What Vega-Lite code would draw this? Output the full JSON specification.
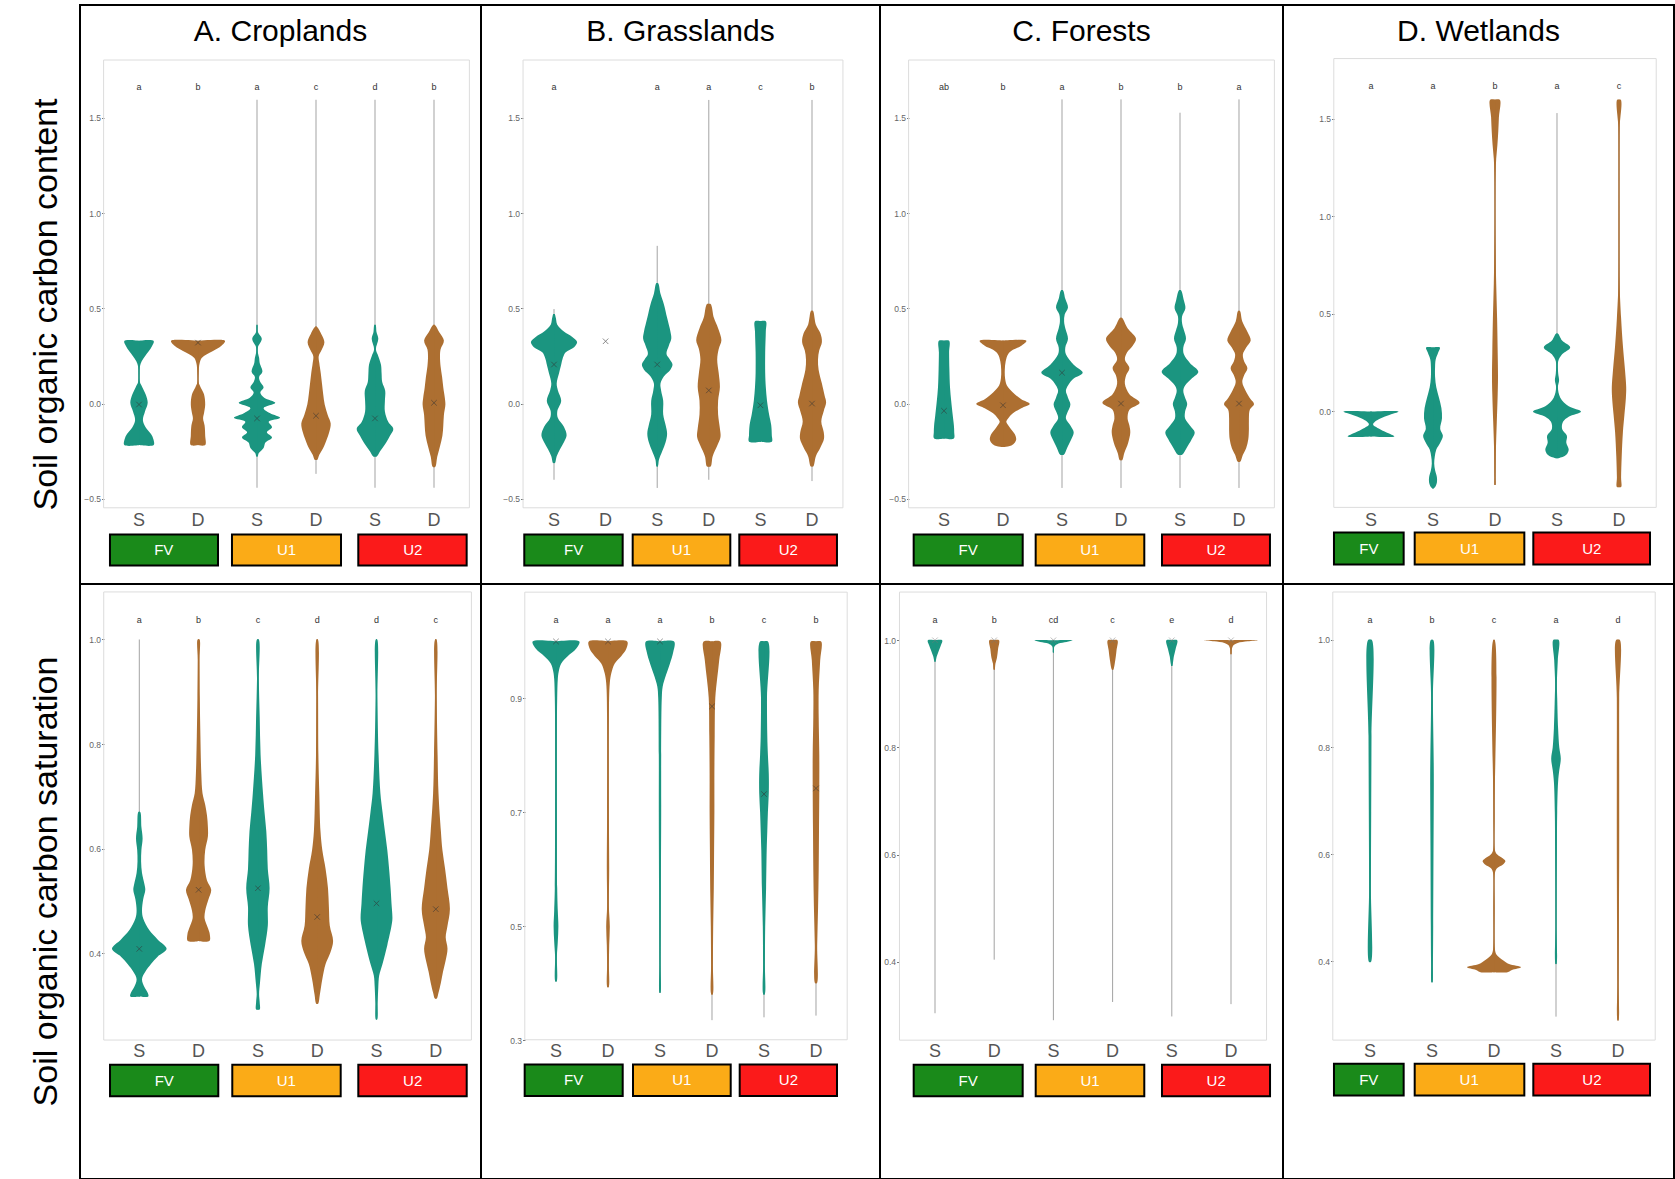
{
"$schema":"https://vega.github.io/schema/vega-lite/v6.json",
"background":"white",
"padding":{"left":13,"top":4,"right":0,"bottom":0},
"config":{"font":"Liberation Sans","view":{"stroke":"black","strokeWidth":2},"axis":{"labelFontSize":8.5,"labelColor":"#666","tickColor":"#777","tickSize":2.5,"domain":false,"grid":false,"labelPadding":1}},
"resolve":{"scale":{"xOffset":"independent"}},
"columns":5,"spacing":0,"bounds":"flush",
"datasets":{
"LA1":[{"k":1,"t":"S","let":"a","m":-0.005,"lo":-0.218,"hi":0.329},{"k":2,"t":"D","let":"b","m":0.32,"lo":-0.218,"hi":0.329},{"k":3,"t":"S","let":"a","m":-0.078,"lo":-0.442,"hi":1.595},{"k":4,"t":"D","let":"c","m":-0.064,"lo":-0.369,"hi":1.595},{"k":5,"t":"S","let":"d","m":-0.078,"lo":-0.442,"hi":1.595},{"k":6,"t":"D","let":"b","m":0.004,"lo":-0.442,"hi":1.595}],
"LB1":[{"k":1,"t":"S","let":"a","m":0.205,"lo":-0.4,"hi":0.496},{"k":2,"t":"D","let":"","m":0.327,"lo":null,"hi":null},{"k":3,"t":"S","let":"a","m":0.205,"lo":-0.443,"hi":0.828},{"k":4,"t":"D","let":"a","m":0.069,"lo":-0.4,"hi":1.594},{"k":5,"t":"S","let":"c","m":-0.009,"lo":-0.2,"hi":0.432},{"k":6,"t":"D","let":"b","m":0.0,"lo":-0.407,"hi":1.594}],
"LC1":[{"k":1,"t":"S","let":"ab","m":-0.038,"lo":-0.184,"hi":0.33},{"k":2,"t":"D","let":"b","m":-0.009,"lo":-0.228,"hi":0.33},{"k":3,"t":"S","let":"a","m":0.162,"lo":-0.443,"hi":1.597},{"k":4,"t":"D","let":"b","m":0.0,"lo":-0.443,"hi":1.597},{"k":5,"t":"S","let":"b","m":null,"lo":-0.443,"hi":1.527},{"k":6,"t":"D","let":"a","m":0.0,"lo":-0.443,"hi":1.597}],
"LD1":[{"k":1,"t":"S","let":"a","m":null,"lo":-0.128,"hi":0.0},{"k":2,"t":"S","let":"a","m":null,"lo":-0.394,"hi":0.328},{"k":3,"t":"D","let":"b","m":null,"lo":-0.376,"hi":1.596},{"k":4,"t":"S","let":"a","m":null,"lo":-0.239,"hi":1.528},{"k":5,"t":"D","let":"c","m":null,"lo":-0.387,"hi":1.596}],
"LA2":[{"k":1,"t":"S","let":"a","m":0.408,"lo":0.317,"hi":1.0},{"k":2,"t":"D","let":"b","m":0.521,"lo":0.423,"hi":1.0},{"k":3,"t":"S","let":"c","m":0.524,"lo":0.292,"hi":1.0},{"k":4,"t":"D","let":"d","m":0.469,"lo":0.303,"hi":1.0},{"k":5,"t":"S","let":"d","m":0.495,"lo":0.273,"hi":1.0},{"k":6,"t":"D","let":"c","m":0.484,"lo":0.313,"hi":1.0}],
"LB2":[{"k":1,"t":"S","let":"a","m":1.0,"lo":0.403,"hi":1.0},{"k":2,"t":"D","let":"a","m":1.0,"lo":0.393,"hi":1.0},{"k":3,"t":"S","let":"a","m":1.0,"lo":0.383,"hi":1.0},{"k":4,"t":"D","let":"b","m":0.886,"lo":0.335,"hi":1.0},{"k":5,"t":"S","let":"c","m":0.732,"lo":0.34,"hi":1.0},{"k":6,"t":"D","let":"b","m":0.742,"lo":0.343,"hi":1.0}],
"LC2":[{"k":1,"t":"S","let":"a","m":1.0,"lo":0.304,"hi":1.0},{"k":2,"t":"D","let":"b","m":1.0,"lo":0.404,"hi":1.0},{"k":3,"t":"S","let":"cd","m":1.0,"lo":0.291,"hi":1.0},{"k":4,"t":"D","let":"c","m":1.0,"lo":0.325,"hi":1.0},{"k":5,"t":"S","let":"e","m":1.0,"lo":0.298,"hi":1.0},{"k":6,"t":"D","let":"d","m":1.0,"lo":0.321,"hi":1.0}],
"LD2":[{"k":1,"t":"S","let":"a","m":null,"lo":0.399,"hi":1.0},{"k":2,"t":"S","let":"b","m":null,"lo":0.361,"hi":1.0},{"k":3,"t":"D","let":"c","m":null,"lo":0.38,"hi":1.0},{"k":4,"t":"S","let":"a","m":null,"lo":0.297,"hi":1.0},{"k":5,"t":"D","let":"d","m":null,"lo":0.29,"hi":1.0}],
"BA1":[{"g":"FV","x0":0.508,"x1":2.339,"xc":1.42},{"g":"U1","x0":2.576,"x1":4.424,"xc":3.5},{"g":"U2","x0":4.717,"x1":6.554,"xc":5.64}],
"BB1":[{"g":"FV","x0":0.424,"x1":2.331,"xc":1.38},{"g":"U1","x0":2.525,"x1":4.417,"xc":3.47},{"g":"U2","x0":4.591,"x1":6.484,"xc":5.54}],
"BC1":[{"g":"FV","x0":0.486,"x1":2.334,"xc":1.41},{"g":"U1","x0":2.554,"x1":4.395,"xc":3.47},{"g":"U2","x0":4.695,"x1":6.525,"xc":5.61}],
"BD1":[{"g":"FV","x0":0.403,"x1":1.527,"xc":0.965},{"g":"U1","x0":1.705,"x1":3.473,"xc":2.59},{"g":"U2","x0":3.618,"x1":5.5,"xc":4.56}],
"BA2":[{"g":"FV","x0":0.506,"x1":2.332,"xc":1.42},{"g":"U1","x0":2.568,"x1":4.396,"xc":3.48},{"g":"U2","x0":4.693,"x1":6.521,"xc":5.61}],
"BB2":[{"g":"FV","x0":0.398,"x1":2.283,"xc":1.34},{"g":"U1","x0":2.481,"x1":4.36,"xc":3.42},{"g":"U2","x0":4.533,"x1":6.404,"xc":5.47}],
"BC2":[{"g":"FV","x0":0.64,"x1":2.481,"xc":1.56},{"g":"U1","x0":2.701,"x1":4.535,"xc":3.62},{"g":"U2","x0":4.834,"x1":6.659,"xc":5.75}],
"BD2":[{"g":"FV","x0":0.419,"x1":1.543,"xc":0.98},{"g":"U1","x0":1.721,"x1":3.489,"xc":2.6},{"g":"U2","x0":3.634,"x1":5.516,"xc":4.58}],
"vA1":[
{"k":1,"y":-0.218,"r":-0.02,"l":0.02},{"k":1,"y":-0.218,"r":0.49,"l":-0.49},{"k":1,"y":-0.187,"r":0.48,"l":-0.48},{"k":1,"y":-0.16,"r":0.4,"l":-0.4},{"k":1,"y":-0.124,"r":0.22,"l":-0.22},{"k":1,"y":-0.087,"r":0.13,"l":-0.13},{"k":1,"y":-0.042,"r":0.2,"l":-0.2},{"k":1,"y":0.004,"r":0.29,"l":-0.29},{"k":1,"y":0.049,"r":0.22,"l":-0.22},{"k":1,"y":0.086,"r":0.11,"l":-0.11},{"k":1,"y":0.113,"r":0.03,"l":-0.03},{"k":1,"y":0.158,"r":0.017,"l":-0.017},{"k":1,"y":0.195,"r":0.03,"l":-0.03},{"k":1,"y":0.222,"r":0.09,"l":-0.09},{"k":1,"y":0.249,"r":0.2,"l":-0.2},{"k":1,"y":0.276,"r":0.33,"l":-0.33},{"k":1,"y":0.304,"r":0.44,"l":-0.44},{"k":1,"y":0.329,"r":0.49,"l":-0.49},{"k":1,"y":0.329,"r":-0.02,"l":0.02},
{"k":2,"y":-0.218,"r":-0.02,"l":0.02},{"k":2,"y":-0.218,"r":0.24,"l":-0.24},{"k":2,"y":-0.169,"r":0.24,"l":-0.24},{"k":2,"y":-0.115,"r":0.22,"l":-0.22},{"k":2,"y":-0.078,"r":0.17,"l":-0.17},{"k":2,"y":-0.051,"r":0.2,"l":-0.2},{"k":2,"y":-0.005,"r":0.24,"l":-0.24},{"k":2,"y":0.049,"r":0.2,"l":-0.2},{"k":2,"y":0.085,"r":0.09,"l":-0.09},{"k":2,"y":0.113,"r":0.02,"l":-0.02},{"k":2,"y":0.158,"r":0.02,"l":-0.02},{"k":2,"y":0.213,"r":0.056,"l":-0.056},{"k":2,"y":0.24,"r":0.13,"l":-0.13},{"k":2,"y":0.258,"r":0.28,"l":-0.28},{"k":2,"y":0.276,"r":0.5,"l":-0.5},{"k":2,"y":0.304,"r":0.78,"l":-0.78},{"k":2,"y":0.329,"r":0.9,"l":-0.9},{"k":2,"y":0.329,"r":-0.02,"l":0.02},
{"k":3,"y":-0.278,"r":-0.02,"l":0.02},{"k":3,"y":-0.278,"r":0.02,"l":-0.02},{"k":3,"y":-0.26,"r":0.06,"l":-0.06},{"k":3,"y":-0.233,"r":0.22,"l":-0.22},{"k":3,"y":-0.205,"r":0.28,"l":-0.28},{"k":3,"y":-0.178,"r":0.5,"l":-0.5},{"k":3,"y":-0.151,"r":0.33,"l":-0.33},{"k":3,"y":-0.124,"r":0.5,"l":-0.5},{"k":3,"y":-0.096,"r":0.39,"l":-0.39},{"k":3,"y":-0.075,"r":0.77,"l":-0.77},{"k":3,"y":-0.051,"r":0.44,"l":-0.44},{"k":3,"y":-0.024,"r":0.22,"l":-0.22},{"k":3,"y":0.004,"r":0.61,"l":-0.61},{"k":3,"y":0.031,"r":0.24,"l":-0.24},{"k":3,"y":0.058,"r":0.11,"l":-0.11},{"k":3,"y":0.085,"r":0.22,"l":-0.22},{"k":3,"y":0.113,"r":0.11,"l":-0.11},{"k":3,"y":0.14,"r":0.07,"l":-0.07},{"k":3,"y":0.167,"r":0.18,"l":-0.18},{"k":3,"y":0.213,"r":0.09,"l":-0.09},{"k":3,"y":0.24,"r":0.07,"l":-0.07},{"k":3,"y":0.267,"r":0.03,"l":-0.03},{"k":3,"y":0.295,"r":0.03,"l":-0.03},{"k":3,"y":0.34,"r":0.16,"l":-0.16},{"k":3,"y":0.376,"r":0.03,"l":-0.03},{"k":3,"y":0.413,"r":0.01,"l":-0.01},{"k":3,"y":0.413,"r":-0.02,"l":0.02},
{"k":4,"y":-0.296,"r":-0.02,"l":0.02},{"k":4,"y":-0.296,"r":0.04,"l":-0.04},{"k":4,"y":-0.269,"r":0.11,"l":-0.11},{"k":4,"y":-0.233,"r":0.24,"l":-0.24},{"k":4,"y":-0.187,"r":0.36,"l":-0.36},{"k":4,"y":-0.151,"r":0.44,"l":-0.44},{"k":4,"y":-0.105,"r":0.49,"l":-0.49},{"k":4,"y":-0.06,"r":0.39,"l":-0.39},{"k":4,"y":-0.005,"r":0.29,"l":-0.29},{"k":4,"y":0.049,"r":0.24,"l":-0.24},{"k":4,"y":0.104,"r":0.2,"l":-0.2},{"k":4,"y":0.158,"r":0.16,"l":-0.16},{"k":4,"y":0.213,"r":0.11,"l":-0.11},{"k":4,"y":0.249,"r":0.09,"l":-0.09},{"k":4,"y":0.276,"r":0.17,"l":-0.17},{"k":4,"y":0.322,"r":0.28,"l":-0.28},{"k":4,"y":0.367,"r":0.17,"l":-0.17},{"k":4,"y":0.404,"r":0.02,"l":-0.02},{"k":4,"y":0.404,"r":-0.02,"l":0.02},
{"k":5,"y":-0.278,"r":-0.02,"l":0.02},{"k":5,"y":-0.278,"r":0.06,"l":-0.06},{"k":5,"y":-0.251,"r":0.17,"l":-0.17},{"k":5,"y":-0.215,"r":0.33,"l":-0.33},{"k":5,"y":-0.169,"r":0.5,"l":-0.5},{"k":5,"y":-0.133,"r":0.61,"l":-0.61},{"k":5,"y":-0.096,"r":0.44,"l":-0.44},{"k":5,"y":-0.042,"r":0.33,"l":-0.33},{"k":5,"y":0.013,"r":0.33,"l":-0.33},{"k":5,"y":0.067,"r":0.34,"l":-0.34},{"k":5,"y":0.113,"r":0.24,"l":-0.24},{"k":5,"y":0.158,"r":0.22,"l":-0.22},{"k":5,"y":0.204,"r":0.2,"l":-0.2},{"k":5,"y":0.249,"r":0.11,"l":-0.11},{"k":5,"y":0.285,"r":0.03,"l":-0.03},{"k":5,"y":0.34,"r":0.11,"l":-0.11},{"k":5,"y":0.376,"r":0.05,"l":-0.05},{"k":5,"y":0.413,"r":0.02,"l":-0.02},{"k":5,"y":0.413,"r":-0.02,"l":0.02},
{"k":6,"y":-0.333,"r":-0.02,"l":0.02},{"k":6,"y":-0.333,"r":0.04,"l":-0.04},{"k":6,"y":-0.278,"r":0.11,"l":-0.11},{"k":6,"y":-0.224,"r":0.2,"l":-0.2},{"k":6,"y":-0.169,"r":0.28,"l":-0.28},{"k":6,"y":-0.115,"r":0.31,"l":-0.31},{"k":6,"y":-0.06,"r":0.33,"l":-0.33},{"k":6,"y":-0.005,"r":0.38,"l":-0.38},{"k":6,"y":0.031,"r":0.36,"l":-0.36},{"k":6,"y":0.085,"r":0.31,"l":-0.31},{"k":6,"y":0.14,"r":0.27,"l":-0.27},{"k":6,"y":0.195,"r":0.22,"l":-0.22},{"k":6,"y":0.249,"r":0.2,"l":-0.2},{"k":6,"y":0.285,"r":0.22,"l":-0.22},{"k":6,"y":0.331,"r":0.33,"l":-0.33},{"k":6,"y":0.376,"r":0.17,"l":-0.17},{"k":6,"y":0.413,"r":0.03,"l":-0.03},{"k":6,"y":0.413,"r":-0.02,"l":0.02}],
"vB1":[
{"k":1,"y":-0.312,"r":-0.02,"l":0.02},{"k":1,"y":-0.312,"r":0.03,"l":-0.03},{"k":1,"y":-0.276,"r":0.09,"l":-0.09},{"k":1,"y":-0.24,"r":0.2,"l":-0.2},{"k":1,"y":-0.203,"r":0.33,"l":-0.33},{"k":1,"y":-0.167,"r":0.42,"l":-0.42},{"k":1,"y":-0.122,"r":0.33,"l":-0.33},{"k":1,"y":-0.076,"r":0.13,"l":-0.13},{"k":1,"y":-0.04,"r":0.11,"l":-0.11},{"k":1,"y":0.015,"r":0.24,"l":-0.24},{"k":1,"y":0.069,"r":0.13,"l":-0.13},{"k":1,"y":0.105,"r":0.09,"l":-0.09},{"k":1,"y":0.16,"r":0.17,"l":-0.17},{"k":1,"y":0.205,"r":0.24,"l":-0.24},{"k":1,"y":0.232,"r":0.28,"l":-0.28},{"k":1,"y":0.269,"r":0.39,"l":-0.39},{"k":1,"y":0.296,"r":0.67,"l":-0.67},{"k":1,"y":0.323,"r":0.77,"l":-0.77},{"k":1,"y":0.35,"r":0.61,"l":-0.61},{"k":1,"y":0.378,"r":0.33,"l":-0.33},{"k":1,"y":0.414,"r":0.11,"l":-0.11},{"k":1,"y":0.45,"r":0.06,"l":-0.06},{"k":1,"y":0.47,"r":0.02,"l":-0.02},{"k":1,"y":0.47,"r":-0.02,"l":0.02},
{"k":3,"y":-0.33,"r":-0.02,"l":0.02},{"k":3,"y":-0.33,"r":0.02,"l":-0.02},{"k":3,"y":-0.294,"r":0.06,"l":-0.06},{"k":3,"y":-0.249,"r":0.17,"l":-0.17},{"k":3,"y":-0.203,"r":0.28,"l":-0.28},{"k":3,"y":-0.158,"r":0.33,"l":-0.33},{"k":3,"y":-0.113,"r":0.28,"l":-0.28},{"k":3,"y":-0.058,"r":0.2,"l":-0.2},{"k":3,"y":0.015,"r":0.2,"l":-0.2},{"k":3,"y":0.069,"r":0.13,"l":-0.13},{"k":3,"y":0.105,"r":0.11,"l":-0.11},{"k":3,"y":0.142,"r":0.22,"l":-0.22},{"k":3,"y":0.178,"r":0.44,"l":-0.44},{"k":3,"y":0.205,"r":0.51,"l":-0.51},{"k":3,"y":0.232,"r":0.42,"l":-0.42},{"k":3,"y":0.26,"r":0.31,"l":-0.31},{"k":3,"y":0.305,"r":0.39,"l":-0.39},{"k":3,"y":0.341,"r":0.47,"l":-0.47},{"k":3,"y":0.378,"r":0.44,"l":-0.44},{"k":3,"y":0.45,"r":0.33,"l":-0.33},{"k":3,"y":0.523,"r":0.22,"l":-0.22},{"k":3,"y":0.577,"r":0.11,"l":-0.11},{"k":3,"y":0.632,"r":0.03,"l":-0.03},{"k":3,"y":0.632,"r":-0.02,"l":0.02},
{"k":4,"y":-0.33,"r":-0.02,"l":0.02},{"k":4,"y":-0.33,"r":0.06,"l":-0.06},{"k":4,"y":-0.276,"r":0.13,"l":-0.13},{"k":4,"y":-0.222,"r":0.28,"l":-0.28},{"k":4,"y":-0.176,"r":0.39,"l":-0.39},{"k":4,"y":-0.131,"r":0.37,"l":-0.37},{"k":4,"y":-0.058,"r":0.31,"l":-0.31},{"k":4,"y":0.015,"r":0.31,"l":-0.31},{"k":4,"y":0.087,"r":0.37,"l":-0.37},{"k":4,"y":0.16,"r":0.33,"l":-0.33},{"k":4,"y":0.232,"r":0.28,"l":-0.28},{"k":4,"y":0.287,"r":0.33,"l":-0.33},{"k":4,"y":0.332,"r":0.42,"l":-0.42},{"k":4,"y":0.396,"r":0.31,"l":-0.31},{"k":4,"y":0.45,"r":0.17,"l":-0.17},{"k":4,"y":0.523,"r":0.06,"l":-0.06},{"k":4,"y":0.523,"r":-0.02,"l":0.02},
{"k":5,"y":-0.2,"r":-0.02,"l":0.02},{"k":5,"y":-0.2,"r":0.38,"l":-0.38},{"k":5,"y":-0.167,"r":0.38,"l":-0.38},{"k":5,"y":-0.113,"r":0.36,"l":-0.36},{"k":5,"y":-0.058,"r":0.29,"l":-0.29},{"k":5,"y":0.015,"r":0.22,"l":-0.22},{"k":5,"y":0.087,"r":0.18,"l":-0.18},{"k":5,"y":0.16,"r":0.16,"l":-0.16},{"k":5,"y":0.269,"r":0.16,"l":-0.16},{"k":5,"y":0.378,"r":0.18,"l":-0.18},{"k":5,"y":0.432,"r":0.18,"l":-0.18},{"k":5,"y":0.432,"r":-0.02,"l":0.02},
{"k":6,"y":-0.33,"r":-0.02,"l":0.02},{"k":6,"y":-0.33,"r":0.04,"l":-0.04},{"k":6,"y":-0.276,"r":0.13,"l":-0.13},{"k":6,"y":-0.231,"r":0.28,"l":-0.28},{"k":6,"y":-0.185,"r":0.4,"l":-0.4},{"k":6,"y":-0.149,"r":0.39,"l":-0.39},{"k":6,"y":-0.094,"r":0.31,"l":-0.31},{"k":6,"y":-0.04,"r":0.39,"l":-0.39},{"k":6,"y":0.005,"r":0.47,"l":-0.47},{"k":6,"y":0.042,"r":0.42,"l":-0.42},{"k":6,"y":0.105,"r":0.33,"l":-0.33},{"k":6,"y":0.178,"r":0.22,"l":-0.22},{"k":6,"y":0.232,"r":0.2,"l":-0.2},{"k":6,"y":0.278,"r":0.24,"l":-0.24},{"k":6,"y":0.323,"r":0.33,"l":-0.33},{"k":6,"y":0.369,"r":0.28,"l":-0.28},{"k":6,"y":0.414,"r":0.13,"l":-0.13},{"k":6,"y":0.487,"r":0.03,"l":-0.03},{"k":6,"y":0.487,"r":-0.02,"l":0.02}],
"vC1":[
{"k":1,"y":-0.184,"r":-0.02,"l":0.02},{"k":1,"y":-0.184,"r":0.33,"l":-0.33},{"k":1,"y":-0.151,"r":0.34,"l":-0.34},{"k":1,"y":-0.115,"r":0.33,"l":-0.33},{"k":1,"y":-0.06,"r":0.29,"l":-0.29},{"k":1,"y":0.013,"r":0.24,"l":-0.24},{"k":1,"y":0.086,"r":0.2,"l":-0.2},{"k":1,"y":0.177,"r":0.18,"l":-0.18},{"k":1,"y":0.268,"r":0.17,"l":-0.17},{"k":1,"y":0.33,"r":0.17,"l":-0.17},{"k":1,"y":0.33,"r":-0.02,"l":0.02},
{"k":2,"y":-0.228,"r":-0.02,"l":0.02},{"k":2,"y":-0.228,"r":0.05,"l":-0.05},{"k":2,"y":-0.22,"r":0.28,"l":-0.28},{"k":2,"y":-0.206,"r":0.39,"l":-0.39},{"k":2,"y":-0.188,"r":0.44,"l":-0.44},{"k":2,"y":-0.16,"r":0.39,"l":-0.39},{"k":2,"y":-0.124,"r":0.22,"l":-0.22},{"k":2,"y":-0.096,"r":0.11,"l":-0.11},{"k":2,"y":-0.078,"r":0.17,"l":-0.17},{"k":2,"y":-0.051,"r":0.33,"l":-0.33},{"k":2,"y":-0.024,"r":0.61,"l":-0.61},{"k":2,"y":-0.002,"r":0.89,"l":-0.89},{"k":2,"y":0.022,"r":0.61,"l":-0.61},{"k":2,"y":0.058,"r":0.33,"l":-0.33},{"k":2,"y":0.095,"r":0.13,"l":-0.13},{"k":2,"y":0.131,"r":0.07,"l":-0.07},{"k":2,"y":0.177,"r":0.06,"l":-0.06},{"k":2,"y":0.222,"r":0.09,"l":-0.09},{"k":2,"y":0.259,"r":0.17,"l":-0.17},{"k":2,"y":0.282,"r":0.33,"l":-0.33},{"k":2,"y":0.304,"r":0.61,"l":-0.61},{"k":2,"y":0.33,"r":0.78,"l":-0.78},{"k":2,"y":0.33,"r":-0.02,"l":0.02},
{"k":3,"y":-0.269,"r":-0.02,"l":0.02},{"k":3,"y":-0.269,"r":0.06,"l":-0.06},{"k":3,"y":-0.233,"r":0.17,"l":-0.17},{"k":3,"y":-0.188,"r":0.31,"l":-0.31},{"k":3,"y":-0.151,"r":0.39,"l":-0.39},{"k":3,"y":-0.115,"r":0.28,"l":-0.28},{"k":3,"y":-0.078,"r":0.13,"l":-0.13},{"k":3,"y":-0.051,"r":0.17,"l":-0.17},{"k":3,"y":-0.005,"r":0.28,"l":-0.28},{"k":3,"y":0.031,"r":0.2,"l":-0.2},{"k":3,"y":0.067,"r":0.13,"l":-0.13},{"k":3,"y":0.095,"r":0.2,"l":-0.2},{"k":3,"y":0.131,"r":0.39,"l":-0.39},{"k":3,"y":0.162,"r":0.69,"l":-0.69},{"k":3,"y":0.204,"r":0.39,"l":-0.39},{"k":3,"y":0.259,"r":0.13,"l":-0.13},{"k":3,"y":0.295,"r":0.11,"l":-0.11},{"k":3,"y":0.34,"r":0.2,"l":-0.2},{"k":3,"y":0.395,"r":0.11,"l":-0.11},{"k":3,"y":0.431,"r":0.07,"l":-0.07},{"k":3,"y":0.468,"r":0.09,"l":-0.09},{"k":3,"y":0.504,"r":0.2,"l":-0.2},{"k":3,"y":0.55,"r":0.11,"l":-0.11},{"k":3,"y":0.595,"r":0.03,"l":-0.03},{"k":3,"y":0.595,"r":-0.02,"l":0.02},
{"k":4,"y":-0.297,"r":-0.02,"l":0.02},{"k":4,"y":-0.297,"r":0.04,"l":-0.04},{"k":4,"y":-0.26,"r":0.11,"l":-0.11},{"k":4,"y":-0.206,"r":0.24,"l":-0.24},{"k":4,"y":-0.151,"r":0.31,"l":-0.31},{"k":4,"y":-0.115,"r":0.28,"l":-0.28},{"k":4,"y":-0.078,"r":0.22,"l":-0.22},{"k":4,"y":-0.033,"r":0.28,"l":-0.28},{"k":4,"y":0.004,"r":0.62,"l":-0.62},{"k":4,"y":0.049,"r":0.28,"l":-0.28},{"k":4,"y":0.104,"r":0.13,"l":-0.13},{"k":4,"y":0.149,"r":0.17,"l":-0.17},{"k":4,"y":0.186,"r":0.28,"l":-0.28},{"k":4,"y":0.231,"r":0.13,"l":-0.13},{"k":4,"y":0.268,"r":0.2,"l":-0.2},{"k":4,"y":0.304,"r":0.39,"l":-0.39},{"k":4,"y":0.34,"r":0.5,"l":-0.5},{"k":4,"y":0.395,"r":0.22,"l":-0.22},{"k":4,"y":0.45,"r":0.03,"l":-0.03},{"k":4,"y":0.45,"r":-0.02,"l":0.02},
{"k":5,"y":-0.269,"r":-0.02,"l":0.02},{"k":5,"y":-0.269,"r":0.07,"l":-0.07},{"k":5,"y":-0.233,"r":0.22,"l":-0.22},{"k":5,"y":-0.188,"r":0.39,"l":-0.39},{"k":5,"y":-0.151,"r":0.49,"l":-0.49},{"k":5,"y":-0.115,"r":0.33,"l":-0.33},{"k":5,"y":-0.078,"r":0.17,"l":-0.17},{"k":5,"y":-0.042,"r":0.17,"l":-0.17},{"k":5,"y":-0.002,"r":0.24,"l":-0.24},{"k":5,"y":0.031,"r":0.17,"l":-0.17},{"k":5,"y":0.067,"r":0.11,"l":-0.11},{"k":5,"y":0.095,"r":0.17,"l":-0.17},{"k":5,"y":0.131,"r":0.39,"l":-0.39},{"k":5,"y":0.167,"r":0.61,"l":-0.61},{"k":5,"y":0.213,"r":0.33,"l":-0.33},{"k":5,"y":0.259,"r":0.13,"l":-0.13},{"k":5,"y":0.295,"r":0.11,"l":-0.11},{"k":5,"y":0.34,"r":0.2,"l":-0.2},{"k":5,"y":0.386,"r":0.13,"l":-0.13},{"k":5,"y":0.422,"r":0.07,"l":-0.07},{"k":5,"y":0.459,"r":0.07,"l":-0.07},{"k":5,"y":0.501,"r":0.18,"l":-0.18},{"k":5,"y":0.541,"r":0.13,"l":-0.13},{"k":5,"y":0.595,"r":0.03,"l":-0.03},{"k":5,"y":0.595,"r":-0.02,"l":0.02},
{"k":6,"y":-0.306,"r":-0.02,"l":0.02},{"k":6,"y":-0.306,"r":0.04,"l":-0.04},{"k":6,"y":-0.269,"r":0.13,"l":-0.13},{"k":6,"y":-0.233,"r":0.24,"l":-0.24},{"k":6,"y":-0.188,"r":0.31,"l":-0.31},{"k":6,"y":-0.133,"r":0.33,"l":-0.33},{"k":6,"y":-0.078,"r":0.33,"l":-0.33},{"k":6,"y":-0.033,"r":0.36,"l":-0.36},{"k":6,"y":-0.002,"r":0.5,"l":-0.5},{"k":6,"y":0.022,"r":0.39,"l":-0.39},{"k":6,"y":0.067,"r":0.22,"l":-0.22},{"k":6,"y":0.113,"r":0.11,"l":-0.11},{"k":6,"y":0.149,"r":0.17,"l":-0.17},{"k":6,"y":0.186,"r":0.28,"l":-0.28},{"k":6,"y":0.222,"r":0.17,"l":-0.17},{"k":6,"y":0.259,"r":0.13,"l":-0.13},{"k":6,"y":0.295,"r":0.24,"l":-0.24},{"k":6,"y":0.331,"r":0.39,"l":-0.39},{"k":6,"y":0.377,"r":0.28,"l":-0.28},{"k":6,"y":0.431,"r":0.11,"l":-0.11},{"k":6,"y":0.486,"r":0.03,"l":-0.03},{"k":6,"y":0.486,"r":-0.02,"l":0.02}],
"vD1":[
{"k":1,"y":-0.128,"r":-0.02,"l":0.02},{"k":1,"y":-0.128,"r":0.78,"l":-0.78},{"k":1,"y":-0.115,"r":0.64,"l":-0.64},{"k":1,"y":-0.098,"r":0.39,"l":-0.39},{"k":1,"y":-0.08,"r":0.17,"l":-0.17},{"k":1,"y":-0.066,"r":0.07,"l":-0.07},{"k":1,"y":-0.053,"r":0.13,"l":-0.13},{"k":1,"y":-0.035,"r":0.33,"l":-0.33},{"k":1,"y":-0.018,"r":0.61,"l":-0.61},{"k":1,"y":0.0,"r":0.92,"l":-0.92},{"k":1,"y":0.0,"r":-0.02,"l":0.02},
{"k":2,"y":-0.394,"r":-0.02,"l":0.02},{"k":2,"y":-0.394,"r":0.01,"l":-0.01},{"k":2,"y":-0.387,"r":0.07,"l":-0.07},{"k":2,"y":-0.363,"r":0.13,"l":-0.13},{"k":2,"y":-0.337,"r":0.13,"l":-0.13},{"k":2,"y":-0.301,"r":0.07,"l":-0.07},{"k":2,"y":-0.266,"r":0.04,"l":-0.04},{"k":2,"y":-0.23,"r":0.06,"l":-0.06},{"k":2,"y":-0.195,"r":0.11,"l":-0.11},{"k":2,"y":-0.16,"r":0.24,"l":-0.24},{"k":2,"y":-0.124,"r":0.33,"l":-0.33},{"k":2,"y":-0.089,"r":0.24,"l":-0.24},{"k":2,"y":-0.035,"r":0.3,"l":-0.3},{"k":2,"y":0.018,"r":0.28,"l":-0.28},{"k":2,"y":0.071,"r":0.2,"l":-0.2},{"k":2,"y":0.124,"r":0.11,"l":-0.11},{"k":2,"y":0.177,"r":0.07,"l":-0.07},{"k":2,"y":0.23,"r":0.07,"l":-0.07},{"k":2,"y":0.266,"r":0.09,"l":-0.09},{"k":2,"y":0.301,"r":0.17,"l":-0.17},{"k":2,"y":0.328,"r":0.23,"l":-0.23},{"k":2,"y":0.328,"r":-0.02,"l":0.02},
{"k":3,"y":-0.376,"r":-0.02,"l":0.02},{"k":3,"y":-0.376,"r":0.01,"l":-0.01},{"k":3,"y":-0.337,"r":0.017,"l":-0.017},{"k":3,"y":-0.195,"r":0.03,"l":-0.03},{"k":3,"y":-0.053,"r":0.06,"l":-0.06},{"k":3,"y":0.089,"r":0.09,"l":-0.09},{"k":3,"y":0.177,"r":0.1,"l":-0.1},{"k":3,"y":0.301,"r":0.09,"l":-0.09},{"k":3,"y":0.479,"r":0.07,"l":-0.07},{"k":3,"y":0.656,"r":0.04,"l":-0.04},{"k":3,"y":0.833,"r":0.02,"l":-0.02},{"k":3,"y":0.975,"r":0.008,"l":-0.008},{"k":3,"y":1.152,"r":0.01,"l":-0.01},{"k":3,"y":1.223,"r":0.02,"l":-0.02},{"k":3,"y":1.294,"r":0.04,"l":-0.04},{"k":3,"y":1.365,"r":0.08,"l":-0.08},{"k":3,"y":1.436,"r":0.11,"l":-0.11},{"k":3,"y":1.507,"r":0.13,"l":-0.13},{"k":3,"y":1.596,"r":0.16,"l":-0.16},{"k":3,"y":1.596,"r":-0.02,"l":0.02},
{"k":4,"y":-0.239,"r":-0.02,"l":0.02},{"k":4,"y":-0.239,"r":0.06,"l":-0.06},{"k":4,"y":-0.222,"r":0.31,"l":-0.31},{"k":4,"y":-0.195,"r":0.39,"l":-0.39},{"k":4,"y":-0.16,"r":0.31,"l":-0.31},{"k":4,"y":-0.124,"r":0.33,"l":-0.33},{"k":4,"y":-0.089,"r":0.17,"l":-0.17},{"k":4,"y":-0.053,"r":0.2,"l":-0.2},{"k":4,"y":-0.027,"r":0.39,"l":-0.39},{"k":4,"y":0.0,"r":0.8,"l":-0.8},{"k":4,"y":0.027,"r":0.39,"l":-0.39},{"k":4,"y":0.071,"r":0.11,"l":-0.11},{"k":4,"y":0.124,"r":0.03,"l":-0.03},{"k":4,"y":0.16,"r":0.07,"l":-0.07},{"k":4,"y":0.195,"r":0.04,"l":-0.04},{"k":4,"y":0.257,"r":0.04,"l":-0.04},{"k":4,"y":0.293,"r":0.17,"l":-0.17},{"k":4,"y":0.328,"r":0.44,"l":-0.44},{"k":4,"y":0.363,"r":0.17,"l":-0.17},{"k":4,"y":0.399,"r":0.03,"l":-0.03},{"k":4,"y":0.399,"r":-0.02,"l":0.02},
{"k":5,"y":-0.387,"r":-0.02,"l":0.02},{"k":5,"y":-0.387,"r":0.07,"l":-0.07},{"k":5,"y":-0.337,"r":0.07,"l":-0.07},{"k":5,"y":-0.23,"r":0.09,"l":-0.09},{"k":5,"y":-0.106,"r":0.13,"l":-0.13},{"k":5,"y":-0.018,"r":0.18,"l":-0.18},{"k":5,"y":0.071,"r":0.23,"l":-0.23},{"k":5,"y":0.124,"r":0.24,"l":-0.24},{"k":5,"y":0.213,"r":0.2,"l":-0.2},{"k":5,"y":0.337,"r":0.13,"l":-0.13},{"k":5,"y":0.479,"r":0.07,"l":-0.07},{"k":5,"y":0.656,"r":0.02,"l":-0.02},{"k":5,"y":1.011,"r":0.01,"l":-0.01},{"k":5,"y":1.277,"r":0.01,"l":-0.01},{"k":5,"y":1.454,"r":0.02,"l":-0.02},{"k":5,"y":1.596,"r":0.06,"l":-0.06},{"k":5,"y":1.596,"r":-0.02,"l":0.02}],
"vA2":[
{"k":1,"y":0.317,"r":-0.02,"l":0.02},{"k":1,"y":0.317,"r":0.3,"l":-0.3},{"k":1,"y":0.324,"r":0.28,"l":-0.28},{"k":1,"y":0.335,"r":0.17,"l":-0.17},{"k":1,"y":0.35,"r":0.09,"l":-0.09},{"k":1,"y":0.364,"r":0.2,"l":-0.2},{"k":1,"y":0.379,"r":0.39,"l":-0.39},{"k":1,"y":0.393,"r":0.61,"l":-0.61},{"k":1,"y":0.408,"r":0.91,"l":-0.91},{"k":1,"y":0.426,"r":0.61,"l":-0.61},{"k":1,"y":0.444,"r":0.33,"l":-0.33},{"k":1,"y":0.466,"r":0.13,"l":-0.13},{"k":1,"y":0.481,"r":0.09,"l":-0.09},{"k":1,"y":0.503,"r":0.13,"l":-0.13},{"k":1,"y":0.521,"r":0.2,"l":-0.2},{"k":1,"y":0.532,"r":0.17,"l":-0.17},{"k":1,"y":0.553,"r":0.09,"l":-0.09},{"k":1,"y":0.575,"r":0.06,"l":-0.06},{"k":1,"y":0.597,"r":0.07,"l":-0.07},{"k":1,"y":0.619,"r":0.11,"l":-0.11},{"k":1,"y":0.641,"r":0.07,"l":-0.07},{"k":1,"y":0.67,"r":0.03,"l":-0.03},{"k":1,"y":0.67,"r":-0.02,"l":0.02},
{"k":2,"y":0.423,"r":-0.02,"l":0.02},{"k":2,"y":0.423,"r":0.36,"l":-0.36},{"k":2,"y":0.437,"r":0.37,"l":-0.37},{"k":2,"y":0.448,"r":0.31,"l":-0.31},{"k":2,"y":0.466,"r":0.2,"l":-0.2},{"k":2,"y":0.481,"r":0.22,"l":-0.22},{"k":2,"y":0.503,"r":0.33,"l":-0.33},{"k":2,"y":0.521,"r":0.42,"l":-0.42},{"k":2,"y":0.539,"r":0.28,"l":-0.28},{"k":2,"y":0.568,"r":0.2,"l":-0.2},{"k":2,"y":0.597,"r":0.22,"l":-0.22},{"k":2,"y":0.623,"r":0.31,"l":-0.31},{"k":2,"y":0.641,"r":0.31,"l":-0.31},{"k":2,"y":0.663,"r":0.28,"l":-0.28},{"k":2,"y":0.684,"r":0.22,"l":-0.22},{"k":2,"y":0.706,"r":0.13,"l":-0.13},{"k":2,"y":0.743,"r":0.09,"l":-0.09},{"k":2,"y":0.815,"r":0.06,"l":-0.06},{"k":2,"y":0.888,"r":0.04,"l":-0.04},{"k":2,"y":0.961,"r":0.03,"l":-0.03},{"k":2,"y":1.0,"r":0.03,"l":-0.03},{"k":2,"y":1.0,"r":-0.02,"l":0.02},
{"k":3,"y":0.292,"r":-0.02,"l":0.02},{"k":3,"y":0.292,"r":0.06,"l":-0.06},{"k":3,"y":0.306,"r":0.06,"l":-0.06},{"k":3,"y":0.321,"r":0.04,"l":-0.04},{"k":3,"y":0.343,"r":0.07,"l":-0.07},{"k":3,"y":0.379,"r":0.13,"l":-0.13},{"k":3,"y":0.415,"r":0.24,"l":-0.24},{"k":3,"y":0.452,"r":0.33,"l":-0.33},{"k":3,"y":0.488,"r":0.33,"l":-0.33},{"k":3,"y":0.524,"r":0.39,"l":-0.39},{"k":3,"y":0.561,"r":0.33,"l":-0.33},{"k":3,"y":0.597,"r":0.31,"l":-0.31},{"k":3,"y":0.633,"r":0.28,"l":-0.28},{"k":3,"y":0.67,"r":0.22,"l":-0.22},{"k":3,"y":0.706,"r":0.17,"l":-0.17},{"k":3,"y":0.779,"r":0.09,"l":-0.09},{"k":3,"y":0.852,"r":0.06,"l":-0.06},{"k":3,"y":0.924,"r":0.03,"l":-0.03},{"k":3,"y":1.0,"r":0.03,"l":-0.03},{"k":3,"y":1.0,"r":-0.02,"l":0.02},
{"k":4,"y":0.303,"r":-0.02,"l":0.02},{"k":4,"y":0.303,"r":0.03,"l":-0.03},{"k":4,"y":0.321,"r":0.09,"l":-0.09},{"k":4,"y":0.35,"r":0.17,"l":-0.17},{"k":4,"y":0.379,"r":0.28,"l":-0.28},{"k":4,"y":0.401,"r":0.44,"l":-0.44},{"k":4,"y":0.423,"r":0.53,"l":-0.53},{"k":4,"y":0.452,"r":0.42,"l":-0.42},{"k":4,"y":0.488,"r":0.39,"l":-0.39},{"k":4,"y":0.524,"r":0.36,"l":-0.36},{"k":4,"y":0.561,"r":0.28,"l":-0.28},{"k":4,"y":0.597,"r":0.17,"l":-0.17},{"k":4,"y":0.633,"r":0.11,"l":-0.11},{"k":4,"y":0.706,"r":0.07,"l":-0.07},{"k":4,"y":0.779,"r":0.04,"l":-0.04},{"k":4,"y":0.888,"r":0.03,"l":-0.03},{"k":4,"y":1.0,"r":0.02,"l":-0.02},{"k":4,"y":1.0,"r":-0.02,"l":0.02},
{"k":5,"y":0.273,"r":-0.02,"l":0.02},{"k":5,"y":0.273,"r":0.02,"l":-0.02},{"k":5,"y":0.306,"r":0.04,"l":-0.04},{"k":5,"y":0.335,"r":0.06,"l":-0.06},{"k":5,"y":0.357,"r":0.09,"l":-0.09},{"k":5,"y":0.379,"r":0.2,"l":-0.2},{"k":5,"y":0.415,"r":0.36,"l":-0.36},{"k":5,"y":0.452,"r":0.5,"l":-0.5},{"k":5,"y":0.466,"r":0.53,"l":-0.53},{"k":5,"y":0.495,"r":0.5,"l":-0.5},{"k":5,"y":0.524,"r":0.47,"l":-0.47},{"k":5,"y":0.561,"r":0.42,"l":-0.42},{"k":5,"y":0.597,"r":0.36,"l":-0.36},{"k":5,"y":0.633,"r":0.28,"l":-0.28},{"k":5,"y":0.67,"r":0.2,"l":-0.2},{"k":5,"y":0.706,"r":0.13,"l":-0.13},{"k":5,"y":0.779,"r":0.07,"l":-0.07},{"k":5,"y":0.888,"r":0.03,"l":-0.03},{"k":5,"y":1.0,"r":0.02,"l":-0.02},{"k":5,"y":1.0,"r":-0.02,"l":0.02},
{"k":6,"y":0.313,"r":-0.02,"l":0.02},{"k":6,"y":0.313,"r":0.03,"l":-0.03},{"k":6,"y":0.324,"r":0.09,"l":-0.09},{"k":6,"y":0.343,"r":0.17,"l":-0.17},{"k":6,"y":0.364,"r":0.24,"l":-0.24},{"k":6,"y":0.386,"r":0.33,"l":-0.33},{"k":6,"y":0.408,"r":0.39,"l":-0.39},{"k":6,"y":0.43,"r":0.33,"l":-0.33},{"k":6,"y":0.452,"r":0.39,"l":-0.39},{"k":6,"y":0.484,"r":0.47,"l":-0.47},{"k":6,"y":0.524,"r":0.39,"l":-0.39},{"k":6,"y":0.561,"r":0.31,"l":-0.31},{"k":6,"y":0.597,"r":0.22,"l":-0.22},{"k":6,"y":0.633,"r":0.17,"l":-0.17},{"k":6,"y":0.706,"r":0.09,"l":-0.09},{"k":6,"y":0.779,"r":0.06,"l":-0.06},{"k":6,"y":0.888,"r":0.03,"l":-0.03},{"k":6,"y":1.0,"r":0.02,"l":-0.02},{"k":6,"y":1.0,"r":-0.02,"l":0.02}],
"vB2":[
{"k":1,"y":0.403,"r":-0.02,"l":0.02},{"k":1,"y":0.403,"r":0.02,"l":-0.02},{"k":1,"y":0.447,"r":0.03,"l":-0.03},{"k":1,"y":0.473,"r":0.06,"l":-0.06},{"k":1,"y":0.5,"r":0.08,"l":-0.08},{"k":1,"y":0.527,"r":0.06,"l":-0.06},{"k":1,"y":0.567,"r":0.04,"l":-0.04},{"k":1,"y":0.7,"r":0.03,"l":-0.03},{"k":1,"y":0.834,"r":0.03,"l":-0.03},{"k":1,"y":0.901,"r":0.04,"l":-0.04},{"k":1,"y":0.934,"r":0.06,"l":-0.06},{"k":1,"y":0.947,"r":0.09,"l":-0.09},{"k":1,"y":0.961,"r":0.17,"l":-0.17},{"k":1,"y":0.974,"r":0.39,"l":-0.39},{"k":1,"y":0.987,"r":0.67,"l":-0.67},{"k":1,"y":1.0,"r":0.78,"l":-0.78},{"k":1,"y":1.0,"r":-0.02,"l":0.02},
{"k":2,"y":0.393,"r":-0.02,"l":0.02},{"k":2,"y":0.393,"r":0.02,"l":-0.02},{"k":2,"y":0.433,"r":0.03,"l":-0.03},{"k":2,"y":0.467,"r":0.04,"l":-0.04},{"k":2,"y":0.5,"r":0.06,"l":-0.06},{"k":2,"y":0.534,"r":0.03,"l":-0.03},{"k":2,"y":0.6,"r":0.04,"l":-0.04},{"k":2,"y":0.7,"r":0.03,"l":-0.03},{"k":2,"y":0.867,"r":0.03,"l":-0.03},{"k":2,"y":0.927,"r":0.06,"l":-0.06},{"k":2,"y":0.944,"r":0.11,"l":-0.11},{"k":2,"y":0.961,"r":0.22,"l":-0.22},{"k":2,"y":0.974,"r":0.44,"l":-0.44},{"k":2,"y":0.987,"r":0.61,"l":-0.61},{"k":2,"y":1.0,"r":0.64,"l":-0.64},{"k":2,"y":1.0,"r":-0.02,"l":0.02},
{"k":3,"y":0.383,"r":-0.02,"l":0.02},{"k":3,"y":0.383,"r":0.01,"l":-0.01},{"k":3,"y":0.433,"r":0.02,"l":-0.02},{"k":3,"y":0.567,"r":0.03,"l":-0.03},{"k":3,"y":0.7,"r":0.04,"l":-0.04},{"k":3,"y":0.801,"r":0.04,"l":-0.04},{"k":3,"y":0.901,"r":0.06,"l":-0.06},{"k":3,"y":0.921,"r":0.09,"l":-0.09},{"k":3,"y":0.941,"r":0.2,"l":-0.2},{"k":3,"y":0.961,"r":0.33,"l":-0.33},{"k":3,"y":0.981,"r":0.44,"l":-0.44},{"k":3,"y":1.0,"r":0.47,"l":-0.47},{"k":3,"y":1.0,"r":-0.02,"l":0.02},
{"k":4,"y":0.38,"r":-0.02,"l":0.02},{"k":4,"y":0.38,"r":0.02,"l":-0.02},{"k":4,"y":0.433,"r":0.03,"l":-0.03},{"k":4,"y":0.5,"r":0.04,"l":-0.04},{"k":4,"y":0.567,"r":0.06,"l":-0.06},{"k":4,"y":0.634,"r":0.07,"l":-0.07},{"k":4,"y":0.7,"r":0.08,"l":-0.08},{"k":4,"y":0.767,"r":0.08,"l":-0.08},{"k":4,"y":0.834,"r":0.09,"l":-0.09},{"k":4,"y":0.901,"r":0.11,"l":-0.11},{"k":4,"y":0.934,"r":0.17,"l":-0.17},{"k":4,"y":0.967,"r":0.24,"l":-0.24},{"k":4,"y":1.0,"r":0.28,"l":-0.28},{"k":4,"y":1.0,"r":-0.02,"l":0.02},
{"k":5,"y":0.38,"r":-0.02,"l":0.02},{"k":5,"y":0.38,"r":0.02,"l":-0.02},{"k":5,"y":0.433,"r":0.03,"l":-0.03},{"k":5,"y":0.5,"r":0.04,"l":-0.04},{"k":5,"y":0.567,"r":0.07,"l":-0.07},{"k":5,"y":0.634,"r":0.09,"l":-0.09},{"k":5,"y":0.667,"r":0.11,"l":-0.11},{"k":5,"y":0.7,"r":0.13,"l":-0.13},{"k":5,"y":0.734,"r":0.16,"l":-0.16},{"k":5,"y":0.767,"r":0.16,"l":-0.16},{"k":5,"y":0.801,"r":0.13,"l":-0.13},{"k":5,"y":0.834,"r":0.11,"l":-0.11},{"k":5,"y":0.901,"r":0.1,"l":-0.1},{"k":5,"y":1.0,"r":0.13,"l":-0.13},{"k":5,"y":1.0,"r":-0.02,"l":0.02},
{"k":6,"y":0.4,"r":-0.02,"l":0.02},{"k":6,"y":0.4,"r":0.03,"l":-0.03},{"k":6,"y":0.467,"r":0.04,"l":-0.04},{"k":6,"y":0.534,"r":0.07,"l":-0.07},{"k":6,"y":0.6,"r":0.09,"l":-0.09},{"k":6,"y":0.667,"r":0.1,"l":-0.1},{"k":6,"y":0.74,"r":0.11,"l":-0.11},{"k":6,"y":0.801,"r":0.11,"l":-0.11},{"k":6,"y":0.867,"r":0.09,"l":-0.09},{"k":6,"y":0.914,"r":0.09,"l":-0.09},{"k":6,"y":0.967,"r":0.14,"l":-0.14},{"k":6,"y":1.0,"r":0.17,"l":-0.17},{"k":6,"y":1.0,"r":-0.02,"l":0.02}],
"vC2":[
{"k":1,"y":0.96,"r":-0.02,"l":0.02},{"k":1,"y":0.96,"r":0.01,"l":-0.01},{"k":1,"y":0.97,"r":0.06,"l":-0.06},{"k":1,"y":0.981,"r":0.13,"l":-0.13},{"k":1,"y":0.991,"r":0.2,"l":-0.2},{"k":1,"y":1.0,"r":0.24,"l":-0.24},{"k":1,"y":1.0,"r":-0.02,"l":0.02},
{"k":2,"y":0.945,"r":-0.02,"l":0.02},{"k":2,"y":0.945,"r":0.01,"l":-0.01},{"k":2,"y":0.956,"r":0.04,"l":-0.04},{"k":2,"y":0.967,"r":0.09,"l":-0.09},{"k":2,"y":0.984,"r":0.13,"l":-0.13},{"k":2,"y":1.0,"r":0.16,"l":-0.16},{"k":2,"y":1.0,"r":-0.02,"l":0.02},
{"k":3,"y":0.977,"r":-0.02,"l":0.02},{"k":3,"y":0.977,"r":0.01,"l":-0.01},{"k":3,"y":0.988,"r":0.03,"l":-0.03},{"k":3,"y":0.994,"r":0.17,"l":-0.17},{"k":3,"y":0.997,"r":0.44,"l":-0.44},{"k":3,"y":1.0,"r":0.64,"l":-0.64},{"k":3,"y":1.0,"r":-0.02,"l":0.02},
{"k":4,"y":0.945,"r":-0.02,"l":0.02},{"k":4,"y":0.945,"r":0.02,"l":-0.02},{"k":4,"y":0.963,"r":0.09,"l":-0.09},{"k":4,"y":0.981,"r":0.13,"l":-0.13},{"k":4,"y":1.0,"r":0.16,"l":-0.16},{"k":4,"y":1.0,"r":-0.02,"l":0.02},
{"k":5,"y":0.952,"r":-0.02,"l":0.02},{"k":5,"y":0.952,"r":0.01,"l":-0.01},{"k":5,"y":0.97,"r":0.07,"l":-0.07},{"k":5,"y":0.984,"r":0.13,"l":-0.13},{"k":5,"y":1.0,"r":0.18,"l":-0.18},{"k":5,"y":1.0,"r":-0.02,"l":0.02},
{"k":6,"y":0.974,"r":-0.02,"l":0.02},{"k":6,"y":0.974,"r":0.01,"l":-0.01},{"k":6,"y":0.984,"r":0.03,"l":-0.03},{"k":6,"y":0.991,"r":0.09,"l":-0.09},{"k":6,"y":0.995,"r":0.22,"l":-0.22},{"k":6,"y":0.998,"r":0.56,"l":-0.56},{"k":6,"y":1.0,"r":0.89,"l":-0.89},{"k":6,"y":1.0,"r":-0.02,"l":0.02}],
"vD2":[
{"k":1,"y":0.399,"r":-0.02,"l":0.02},{"k":1,"y":0.399,"r":0.03,"l":-0.03},{"k":1,"y":0.537,"r":0.03,"l":-0.03},{"k":1,"y":0.679,"r":0.04,"l":-0.04},{"k":1,"y":0.821,"r":0.05,"l":-0.05},{"k":1,"y":1.0,"r":0.06,"l":-0.06},{"k":1,"y":1.0,"r":-0.02,"l":0.02},
{"k":2,"y":0.361,"r":-0.02,"l":0.02},{"k":2,"y":0.361,"r":0.01,"l":-0.01},{"k":2,"y":0.395,"r":0.03,"l":-0.03},{"k":2,"y":0.466,"r":0.04,"l":-0.04},{"k":2,"y":0.608,"r":0.05,"l":-0.05},{"k":2,"y":0.75,"r":0.06,"l":-0.06},{"k":2,"y":0.891,"r":0.03,"l":-0.03},{"k":2,"y":1.0,"r":0.04,"l":-0.04},{"k":2,"y":1.0,"r":-0.02,"l":0.02},
{"k":3,"y":0.38,"r":-0.02,"l":0.02},{"k":3,"y":0.38,"r":0.45,"l":-0.45},{"k":3,"y":0.384,"r":0.6,"l":-0.6},{"k":3,"y":0.389,"r":0.9,"l":-0.9},{"k":3,"y":0.395,"r":0.5,"l":-0.5},{"k":3,"y":0.402,"r":0.3,"l":-0.3},{"k":3,"y":0.413,"r":0.08,"l":-0.08},{"k":3,"y":0.423,"r":0.03,"l":-0.03},{"k":3,"y":0.501,"r":0.02,"l":-0.02},{"k":3,"y":0.565,"r":0.03,"l":-0.03},{"k":3,"y":0.574,"r":0.1,"l":-0.1},{"k":3,"y":0.581,"r":0.3,"l":-0.3},{"k":3,"y":0.587,"r":0.38,"l":-0.38},{"k":3,"y":0.592,"r":0.3,"l":-0.3},{"k":3,"y":0.6,"r":0.1,"l":-0.1},{"k":3,"y":0.608,"r":0.03,"l":-0.03},{"k":3,"y":0.679,"r":0.02,"l":-0.02},{"k":3,"y":1.0,"r":0.02,"l":-0.02},{"k":3,"y":1.0,"r":-0.02,"l":0.02},
{"k":4,"y":0.395,"r":-0.02,"l":0.02},{"k":4,"y":0.395,"r":0.01,"l":-0.01},{"k":4,"y":0.466,"r":0.017,"l":-0.017},{"k":4,"y":0.537,"r":0.02,"l":-0.02},{"k":4,"y":0.608,"r":0.03,"l":-0.03},{"k":4,"y":0.679,"r":0.04,"l":-0.04},{"k":4,"y":0.735,"r":0.07,"l":-0.07},{"k":4,"y":0.757,"r":0.11,"l":-0.11},{"k":4,"y":0.778,"r":0.16,"l":-0.16},{"k":4,"y":0.799,"r":0.11,"l":-0.11},{"k":4,"y":0.835,"r":0.07,"l":-0.07},{"k":4,"y":0.892,"r":0.04,"l":-0.04},{"k":4,"y":0.92,"r":0.03,"l":-0.03},{"k":4,"y":0.962,"r":0.06,"l":-0.06},{"k":4,"y":1.0,"r":0.09,"l":-0.09},{"k":4,"y":1.0,"r":-0.02,"l":0.02},
{"k":5,"y":0.29,"r":-0.02,"l":0.02},{"k":5,"y":0.29,"r":0.01,"l":-0.01},{"k":5,"y":0.36,"r":0.02,"l":-0.02},{"k":5,"y":0.466,"r":0.03,"l":-0.03},{"k":5,"y":0.608,"r":0.04,"l":-0.04},{"k":5,"y":0.75,"r":0.04,"l":-0.04},{"k":5,"y":0.891,"r":0.04,"l":-0.04},{"k":5,"y":1.0,"r":0.06,"l":-0.06},{"k":5,"y":1.0,"r":-0.02,"l":0.02}]
},
"concat":[
{"width":67,"height":579,"data":{"values":[{"t":"Soil organic carbon content"}]},"mark":{"type":"text","angle":270,"fontSize":34,"dx":-10},"encoding":{"text":{"field":"t"}}},
{"width":401,"height":579,"resolve":{"scale":{"x":"independent"}},"layer":[
{"data":{"values":[{}]},"mark":{"type":"rect","filled":false,"color":"#dcdcdc","strokeWidth":1},"encoding":{"x":{"datum":0.4,"type":"quantitative","scale":{"domain":[0,6.797]},"axis":null},"x2":{"datum":6.6},"y":{"datum":1.8036,"type":"quantitative","scale":{"domain":[-0.9473,2.0925],"nice":false,"zero":false},"axis":{"values":[-0.5,0,0.5,1,1.5],"format":".1f","offset":-24,"title":null}},"y2":{"datum":-0.5472}}},
{"data":{"name":"LA1"},"mark":{"type":"rule","color":"#a3a3a3","strokeWidth":1},"encoding":{"x":{"field":"k","type":"ordinal","scale":{"type":"band","domain":[1,2,3,4,5,6],"paddingInner":0,"paddingOuter":0.3983,"align":0.6277},"axis":null},"y":{"field":"lo","type":"quantitative"},"y2":{"field":"hi"}}},
{"data":{"name":"vA1"},"transform":[{"lookup":"k","from":{"data":{"name":"LA1"},"key":"k","fields":["t"]}},{"window":[{"op":"row_number","as":"o"}]},{"fold":["r","l"],"as":["side","w"]}],"mark":{"type":"line","filled":true,"interpolate":"catmull-rom","strokeWidth":0},"encoding":{"x":{"field":"k","type":"ordinal","scale":{"type":"band","domain":[1,2,3,4,5,6],"paddingInner":0,"paddingOuter":0.3983,"align":0.6277},"axis":null},"xOffset":{"field":"w","type":"quantitative","scale":{"domain":[-0.9833,0.9833]}},"y":{"field":"y","type":"quantitative"},"color":{"field":"t","type":"nominal","scale":{"domain":["S","D"],"range":["#1b9580","#ad6f31"]},"legend":null},"detail":[{"field":"k"},{"field":"side"}],"order":{"field":"o"}}},
{"data":{"name":"LA1"},"mark":{"type":"point","shape":"M-1,-1L1,1M-1,1L1,-1","filled":false,"size":30,"color":"#333","strokeWidth":0.8,"opacity":0.7},"encoding":{"x":{"field":"k","type":"ordinal","scale":{"type":"band","domain":[1,2,3,4,5,6],"paddingInner":0,"paddingOuter":0.3983,"align":0.6277},"axis":null},"y":{"field":"m","type":"quantitative"}}},
{"data":{"name":"LA1"},"mark":{"type":"text","fontSize":9,"color":"#333"},"encoding":{"x":{"field":"k","type":"ordinal","scale":{"type":"band","domain":[1,2,3,4,5,6],"paddingInner":0,"paddingOuter":0.3983,"align":0.6277},"axis":null},"y":{"datum":1.6617},"text":{"field":"let"}}},
{"data":{"name":"LA1"},"mark":{"type":"text","fontSize":18,"color":"#555"},"encoding":{"x":{"field":"k","type":"ordinal","scale":{"type":"band","domain":[1,2,3,4,5,6],"paddingInner":0,"paddingOuter":0.3983,"align":0.6277},"axis":null},"y":{"datum":-0.6144},"text":{"field":"t"}}},
{"data":{"name":"BA1"},"mark":{"type":"rect","stroke":"black","strokeWidth":2},"encoding":{"x":{"field":"x0","type":"quantitative","scale":{"domain":[0,6.797]},"axis":null},"x2":{"field":"x1"},"y":{"datum":-0.6874},"y2":{"datum":-0.8507},"fill":{"field":"g","type":"nominal","scale":{"domain":["FV","U1","U2"],"range":["#1a8a1a","#fbab17","#fb1a1a"]},"legend":null}}},
{"data":{"name":"BA1"},"mark":{"type":"text","fontSize":15,"color":"white"},"encoding":{"x":{"field":"xc","type":"quantitative","scale":{"domain":[0,6.797]},"axis":null},"y":{"datum":-0.769},"text":{"field":"g"}}},
{"data":{"values":[{}]},"mark":{"type":"text","fontSize":30,"text":"A. Croplands"},"encoding":{"y":{"datum":1.9508}}}
]},
{"width":399,"height":579,"resolve":{"scale":{"x":"independent"}},"layer":[
{"data":{"values":[{}]},"mark":{"type":"rect","filled":false,"color":"#dcdcdc","strokeWidth":1},"encoding":{"x":{"datum":0.4,"type":"quantitative","scale":{"domain":[-0.4147,7.318]},"axis":null},"x2":{"datum":6.6},"y":{"datum":1.8036,"type":"quantitative","scale":{"domain":[-0.9473,2.0925],"nice":false,"zero":false},"axis":{"values":[-0.5,0,0.5,1,1.5],"format":".1f","offset":-42,"title":null}},"y2":{"datum":-0.5472}}},
{"data":{"name":"LB1"},"mark":{"type":"rule","color":"#a3a3a3","strokeWidth":1},"encoding":{"x":{"field":"k","type":"ordinal","scale":{"type":"band","domain":[1,2,3,4,5,6],"paddingInner":0,"paddingOuter":0.8663,"align":0.528},"axis":null},"y":{"field":"lo","type":"quantitative"},"y2":{"field":"hi"}}},
{"data":{"name":"vB1"},"transform":[{"lookup":"k","from":{"data":{"name":"LB1"},"key":"k","fields":["t"]}},{"window":[{"op":"row_number","as":"o"}]},{"fold":["r","l"],"as":["side","w"]}],"mark":{"type":"line","filled":true,"interpolate":"catmull-rom","strokeWidth":0},"encoding":{"x":{"field":"k","type":"ordinal","scale":{"type":"band","domain":[1,2,3,4,5,6],"paddingInner":0,"paddingOuter":0.8663,"align":0.528},"axis":null},"xOffset":{"field":"w","type":"quantitative","scale":{"domain":[-0.86,0.86]}},"y":{"field":"y","type":"quantitative"},"color":{"field":"t","type":"nominal","scale":{"domain":["S","D"],"range":["#1b9580","#ad6f31"]},"legend":null},"detail":[{"field":"k"},{"field":"side"}],"order":{"field":"o"}}},
{"data":{"name":"LB1"},"mark":{"type":"point","shape":"M-1,-1L1,1M-1,1L1,-1","filled":false,"size":30,"color":"#333","strokeWidth":0.8,"opacity":0.7},"encoding":{"x":{"field":"k","type":"ordinal","scale":{"type":"band","domain":[1,2,3,4,5,6],"paddingInner":0,"paddingOuter":0.8663,"align":0.528},"axis":null},"y":{"field":"m","type":"quantitative"}}},
{"data":{"name":"LB1"},"mark":{"type":"text","fontSize":9,"color":"#333"},"encoding":{"x":{"field":"k","type":"ordinal","scale":{"type":"band","domain":[1,2,3,4,5,6],"paddingInner":0,"paddingOuter":0.8663,"align":0.528},"axis":null},"y":{"datum":1.6617},"text":{"field":"let"}}},
{"data":{"name":"LB1"},"mark":{"type":"text","fontSize":18,"color":"#555"},"encoding":{"x":{"field":"k","type":"ordinal","scale":{"type":"band","domain":[1,2,3,4,5,6],"paddingInner":0,"paddingOuter":0.8663,"align":0.528},"axis":null},"y":{"datum":-0.6144},"text":{"field":"t"}}},
{"data":{"name":"BB1"},"mark":{"type":"rect","stroke":"black","strokeWidth":2},"encoding":{"x":{"field":"x0","type":"quantitative","scale":{"domain":[-0.4147,7.318]},"axis":null},"x2":{"field":"x1"},"y":{"datum":-0.6874},"y2":{"datum":-0.8507},"fill":{"field":"g","type":"nominal","scale":{"domain":["FV","U1","U2"],"range":["#1a8a1a","#fbab17","#fb1a1a"]},"legend":null}}},
{"data":{"name":"BB1"},"mark":{"type":"text","fontSize":15,"color":"white"},"encoding":{"x":{"field":"xc","type":"quantitative","scale":{"domain":[-0.4147,7.318]},"axis":null},"y":{"datum":-0.769},"text":{"field":"g"}}},
{"data":{"values":[{}]},"mark":{"type":"text","fontSize":30,"text":"B. Grasslands"},"encoding":{"y":{"datum":1.9508}}}
]},
{"width":403,"height":579,"resolve":{"scale":{"x":"independent"}},"layer":[
{"data":{"values":[{}]},"mark":{"type":"rect","filled":false,"color":"#dcdcdc","strokeWidth":1},"encoding":{"x":{"datum":0.4,"type":"quantitative","scale":{"domain":[-0.0847,6.746]},"axis":null},"x2":{"datum":6.6},"y":{"datum":1.8036,"type":"quantitative","scale":{"domain":[-0.9473,2.0925],"nice":false,"zero":false},"axis":{"values":[-0.5,0,0.5,1,1.5],"format":".1f","offset":-29,"title":null}},"y2":{"datum":-0.5472}}},
{"data":{"name":"LC1"},"mark":{"type":"rule","color":"#a3a3a3","strokeWidth":1},"encoding":{"x":{"field":"k","type":"ordinal","scale":{"type":"band","domain":[1,2,3,4,5,6],"paddingInner":0,"paddingOuter":0.4153,"align":0.7041},"axis":null},"y":{"field":"lo","type":"quantitative"},"y2":{"field":"hi"}}},
{"data":{"name":"vC1"},"transform":[{"lookup":"k","from":{"data":{"name":"LC1"},"key":"k","fields":["t"]}},{"window":[{"op":"row_number","as":"o"}]},{"fold":["r","l"],"as":["side","w"]}],"mark":{"type":"line","filled":true,"interpolate":"catmull-rom","strokeWidth":0},"encoding":{"x":{"field":"k","type":"ordinal","scale":{"type":"band","domain":[1,2,3,4,5,6],"paddingInner":0,"paddingOuter":0.4153,"align":0.7041},"axis":null},"xOffset":{"field":"w","type":"quantitative","scale":{"domain":[-0.9833,0.9833]}},"y":{"field":"y","type":"quantitative"},"color":{"field":"t","type":"nominal","scale":{"domain":["S","D"],"range":["#1b9580","#ad6f31"]},"legend":null},"detail":[{"field":"k"},{"field":"side"}],"order":{"field":"o"}}},
{"data":{"name":"LC1"},"mark":{"type":"point","shape":"M-1,-1L1,1M-1,1L1,-1","filled":false,"size":30,"color":"#333","strokeWidth":0.8,"opacity":0.7},"encoding":{"x":{"field":"k","type":"ordinal","scale":{"type":"band","domain":[1,2,3,4,5,6],"paddingInner":0,"paddingOuter":0.4153,"align":0.7041},"axis":null},"y":{"field":"m","type":"quantitative"}}},
{"data":{"name":"LC1"},"mark":{"type":"text","fontSize":9,"color":"#333"},"encoding":{"x":{"field":"k","type":"ordinal","scale":{"type":"band","domain":[1,2,3,4,5,6],"paddingInner":0,"paddingOuter":0.4153,"align":0.7041},"axis":null},"y":{"datum":1.6617},"text":{"field":"let"}}},
{"data":{"name":"LC1"},"mark":{"type":"text","fontSize":18,"color":"#555"},"encoding":{"x":{"field":"k","type":"ordinal","scale":{"type":"band","domain":[1,2,3,4,5,6],"paddingInner":0,"paddingOuter":0.4153,"align":0.7041},"axis":null},"y":{"datum":-0.6144},"text":{"field":"t"}}},
{"data":{"name":"BC1"},"mark":{"type":"rect","stroke":"black","strokeWidth":2},"encoding":{"x":{"field":"x0","type":"quantitative","scale":{"domain":[-0.0847,6.746]},"axis":null},"x2":{"field":"x1"},"y":{"datum":-0.6874},"y2":{"datum":-0.8507},"fill":{"field":"g","type":"nominal","scale":{"domain":["FV","U1","U2"],"range":["#1a8a1a","#fbab17","#fb1a1a"]},"legend":null}}},
{"data":{"name":"BC1"},"mark":{"type":"text","fontSize":15,"color":"white"},"encoding":{"x":{"field":"xc","type":"quantitative","scale":{"domain":[-0.0847,6.746]},"axis":null},"y":{"datum":-0.769},"text":{"field":"g"}}},
{"data":{"values":[{}]},"mark":{"type":"text","fontSize":30,"text":"C. Forests"},"encoding":{"y":{"datum":1.9508}}}
]},
{"width":391,"height":579,"resolve":{"scale":{"x":"independent"}},"layer":[
{"data":{"values":[{}]},"mark":{"type":"rect","filled":false,"color":"#dcdcdc","strokeWidth":1},"encoding":{"x":{"datum":0.4,"type":"quantitative","scale":{"domain":[-0.419,5.887]},"axis":null},"x2":{"datum":5.6},"y":{"datum":1.807,"type":"quantitative","scale":{"domain":[-0.8833,2.0814],"nice":false,"zero":false},"axis":{"values":[0,0.5,1,1.5],"format":".1f","offset":-51,"title":null}},"y2":{"datum":-0.491}}},
{"data":{"name":"LD1"},"mark":{"type":"rule","color":"#a3a3a3","strokeWidth":1},"encoding":{"x":{"field":"k","type":"ordinal","scale":{"type":"band","domain":[1,2,3,4,5],"paddingInner":0,"paddingOuter":0.6532,"align":0.7037},"axis":null},"y":{"field":"lo","type":"quantitative"},"y2":{"field":"hi"}}},
{"data":{"name":"vD1"},"transform":[{"lookup":"k","from":{"data":{"name":"LD1"},"key":"k","fields":["t"]}},{"window":[{"op":"row_number","as":"o"}]},{"fold":["r","l"],"as":["side","w"]}],"mark":{"type":"line","filled":true,"interpolate":"catmull-rom","strokeWidth":0},"encoding":{"x":{"field":"k","type":"ordinal","scale":{"type":"band","domain":[1,2,3,4,5],"paddingInner":0,"paddingOuter":0.6532,"align":0.7037},"axis":null},"xOffset":{"field":"w","type":"quantitative","scale":{"domain":[-1.0333,1.0333]}},"y":{"field":"y","type":"quantitative"},"color":{"field":"t","type":"nominal","scale":{"domain":["S","D"],"range":["#1b9580","#ad6f31"]},"legend":null},"detail":[{"field":"k"},{"field":"side"}],"order":{"field":"o"}}},
{"data":{"name":"LD1"},"mark":{"type":"text","fontSize":9,"color":"#333"},"encoding":{"x":{"field":"k","type":"ordinal","scale":{"type":"band","domain":[1,2,3,4,5],"paddingInner":0,"paddingOuter":0.6532,"align":0.7037},"axis":null},"y":{"datum":1.665},"text":{"field":"let"}}},
{"data":{"name":"LD1"},"mark":{"type":"text","fontSize":18,"color":"#555"},"encoding":{"x":{"field":"k","type":"ordinal","scale":{"type":"band","domain":[1,2,3,4,5],"paddingInner":0,"paddingOuter":0.6532,"align":0.7037},"axis":null},"y":{"datum":-0.5585},"text":{"field":"t"}}},
{"data":{"name":"BD1"},"mark":{"type":"rect","stroke":"black","strokeWidth":2},"encoding":{"x":{"field":"x0","type":"quantitative","scale":{"domain":[-0.419,5.887]},"axis":null},"x2":{"field":"x1"},"y":{"datum":-0.6202},"y2":{"datum":-0.7835},"fill":{"field":"g","type":"nominal","scale":{"domain":["FV","U1","U2"],"range":["#1a8a1a","#fbab17","#fb1a1a"]},"legend":null}}},
{"data":{"name":"BD1"},"mark":{"type":"text","fontSize":15,"color":"white"},"encoding":{"x":{"field":"xc","type":"quantitative","scale":{"domain":[-0.419,5.887]},"axis":null},"y":{"datum":-0.7019},"text":{"field":"g"}}},
{"data":{"values":[{}]},"mark":{"type":"text","fontSize":30,"text":"D. Wetlands"},"encoding":{"y":{"datum":1.9432}}}
]},
{"width":67,"height":595,"data":{"values":[{"t":"Soil organic carbon saturation"}]},"mark":{"type":"text","angle":270,"fontSize":34},"encoding":{"text":{"field":"t"}}},
{"width":401,"height":595,"resolve":{"scale":{"x":"independent"}},"layer":[
{"data":{"values":[{}]},"mark":{"type":"rect","filled":false,"color":"#dcdcdc","strokeWidth":1},"encoding":{"x":{"datum":0.4,"type":"quantitative","scale":{"domain":[0,6.762]},"axis":null},"x2":{"datum":6.6},"y":{"datum":1.091,"type":"quantitative","scale":{"domain":[-0.0324,1.1062],"nice":false,"zero":false},"axis":{"values":[0.4,0.6,0.8,1.0],"format":".1f","offset":-24,"title":null}},"y2":{"datum":0.2335}}},
{"data":{"name":"LA2"},"mark":{"type":"rule","color":"#a3a3a3","strokeWidth":1},"encoding":{"x":{"field":"k","type":"ordinal","scale":{"type":"band","domain":[1,2,3,4,5,6],"paddingInner":0,"paddingOuter":0.3811,"align":0.656},"axis":null},"y":{"field":"lo","type":"quantitative"},"y2":{"field":"hi"}}},
{"data":{"name":"vA2"},"transform":[{"lookup":"k","from":{"data":{"name":"LA2"},"key":"k","fields":["t"]}},{"window":[{"op":"row_number","as":"o"}]},{"fold":["r","l"],"as":["side","w"]}],"mark":{"type":"line","filled":true,"interpolate":"catmull-rom","strokeWidth":0},"encoding":{"x":{"field":"k","type":"ordinal","scale":{"type":"band","domain":[1,2,3,4,5,6],"paddingInner":0,"paddingOuter":0.3811,"align":0.656},"axis":null},"xOffset":{"field":"w","type":"quantitative","scale":{"domain":[-0.9883,0.9883]}},"y":{"field":"y","type":"quantitative"},"color":{"field":"t","type":"nominal","scale":{"domain":["S","D"],"range":["#1b9580","#ad6f31"]},"legend":null},"detail":[{"field":"k"},{"field":"side"}],"order":{"field":"o"}}},
{"data":{"name":"LA2"},"mark":{"type":"point","shape":"M-1,-1L1,1M-1,1L1,-1","filled":false,"size":30,"color":"#333","strokeWidth":0.8,"opacity":0.7},"encoding":{"x":{"field":"k","type":"ordinal","scale":{"type":"band","domain":[1,2,3,4,5,6],"paddingInner":0,"paddingOuter":0.3811,"align":0.656},"axis":null},"y":{"field":"m","type":"quantitative"}}},
{"data":{"name":"LA2"},"mark":{"type":"text","fontSize":9,"color":"#333"},"encoding":{"x":{"field":"k","type":"ordinal","scale":{"type":"band","domain":[1,2,3,4,5,6],"paddingInner":0,"paddingOuter":0.3811,"align":0.656},"axis":null},"y":{"datum":1.037},"text":{"field":"let"}}},
{"data":{"name":"LA2"},"mark":{"type":"text","fontSize":18,"color":"#555"},"encoding":{"x":{"field":"k","type":"ordinal","scale":{"type":"band","domain":[1,2,3,4,5,6],"paddingInner":0,"paddingOuter":0.3811,"align":0.656},"axis":null},"y":{"datum":0.2106},"text":{"field":"t"}}},
{"data":{"name":"BA2"},"mark":{"type":"rect","stroke":"black","strokeWidth":2},"encoding":{"x":{"field":"x0","type":"quantitative","scale":{"domain":[0,6.762]},"axis":null},"x2":{"field":"x1"},"y":{"datum":0.1861},"y2":{"datum":0.1259},"fill":{"field":"g","type":"nominal","scale":{"domain":["FV","U1","U2"],"range":["#1a8a1a","#fbab17","#fb1a1a"]},"legend":null}}},
{"data":{"name":"BA2"},"mark":{"type":"text","fontSize":15,"color":"white"},"encoding":{"x":{"field":"xc","type":"quantitative","scale":{"domain":[0,6.762]},"axis":null},"y":{"datum":0.156},"text":{"field":"g"}}}
]},
{"width":399,"height":595,"resolve":{"scale":{"x":"independent"}},"layer":[
{"data":{"values":[{}]},"mark":{"type":"rect","filled":false,"color":"#dcdcdc","strokeWidth":1},"encoding":{"x":{"datum":0.4,"type":"quantitative","scale":{"domain":[-0.442,7.231]},"axis":null},"x2":{"datum":6.6},"y":{"datum":1.0866,"type":"quantitative","scale":{"domain":[0.0561,1.1009],"nice":false,"zero":false},"axis":{"values":[0.3,0.5,0.7,0.9],"format":".1f","offset":-44,"title":null}},"y2":{"datum":0.3006}}},
{"data":{"name":"LB2"},"mark":{"type":"rule","color":"#a3a3a3","strokeWidth":1},"encoding":{"x":{"field":"k","type":"ordinal","scale":{"type":"band","domain":[1,2,3,4,5,6],"paddingInner":0,"paddingOuter":0.8365,"align":0.5632},"axis":null},"y":{"field":"lo","type":"quantitative"},"y2":{"field":"hi"}}},
{"data":{"name":"vB2"},"transform":[{"lookup":"k","from":{"data":{"name":"LB2"},"key":"k","fields":["t"]}},{"window":[{"op":"row_number","as":"o"}]},{"fold":["r","l"],"as":["side","w"]}],"mark":{"type":"line","filled":true,"interpolate":"catmull-rom","strokeWidth":0},"encoding":{"x":{"field":"k","type":"ordinal","scale":{"type":"band","domain":[1,2,3,4,5,6],"paddingInner":0,"paddingOuter":0.8365,"align":0.5632},"axis":null},"xOffset":{"field":"w","type":"quantitative","scale":{"domain":[-0.8667,0.8667]}},"y":{"field":"y","type":"quantitative"},"color":{"field":"t","type":"nominal","scale":{"domain":["S","D"],"range":["#1b9580","#ad6f31"]},"legend":null},"detail":[{"field":"k"},{"field":"side"}],"order":{"field":"o"}}},
{"data":{"name":"LB2"},"mark":{"type":"point","shape":"M-1,-1L1,1M-1,1L1,-1","filled":false,"size":30,"color":"#333","strokeWidth":0.8,"opacity":0.7},"encoding":{"x":{"field":"k","type":"ordinal","scale":{"type":"band","domain":[1,2,3,4,5,6],"paddingInner":0,"paddingOuter":0.8365,"align":0.5632},"axis":null},"y":{"field":"m","type":"quantitative"}}},
{"data":{"name":"LB2"},"mark":{"type":"text","fontSize":9,"color":"#333"},"encoding":{"x":{"field":"k","type":"ordinal","scale":{"type":"band","domain":[1,2,3,4,5,6],"paddingInner":0,"paddingOuter":0.8365,"align":0.5632},"axis":null},"y":{"datum":1.037},"text":{"field":"let"}}},
{"data":{"name":"LB2"},"mark":{"type":"text","fontSize":18,"color":"#555"},"encoding":{"x":{"field":"k","type":"ordinal","scale":{"type":"band","domain":[1,2,3,4,5,6],"paddingInner":0,"paddingOuter":0.8365,"align":0.5632},"axis":null},"y":{"datum":0.2786},"text":{"field":"t"}}},
{"data":{"name":"BB2"},"mark":{"type":"rect","stroke":"black","strokeWidth":2},"encoding":{"x":{"field":"x0","type":"quantitative","scale":{"domain":[-0.442,7.231]},"axis":null},"x2":{"field":"x1"},"y":{"datum":0.2572},"y2":{"datum":0.202},"fill":{"field":"g","type":"nominal","scale":{"domain":["FV","U1","U2"],"range":["#1a8a1a","#fbab17","#fb1a1a"]},"legend":null}}},
{"data":{"name":"BB2"},"mark":{"type":"text","fontSize":15,"color":"white"},"encoding":{"x":{"field":"xc","type":"quantitative","scale":{"domain":[-0.442,7.231]},"axis":null},"y":{"datum":0.2296},"text":{"field":"g"}}}
]},
{"width":403,"height":595,"resolve":{"scale":{"x":"independent"}},"layer":[
{"data":{"values":[{}]},"mark":{"type":"rect","filled":false,"color":"#dcdcdc","strokeWidth":1},"encoding":{"x":{"datum":0.4,"type":"quantitative","scale":{"domain":[0.071,6.878]},"axis":null},"x2":{"datum":6.6},"y":{"datum":1.09,"type":"quantitative","scale":{"domain":[-0.0053,1.105],"nice":false,"zero":false},"axis":{"values":[0.4,0.6,0.8,1.0],"format":".1f","offset":-19,"title":null}},"y2":{"datum":0.2538}}},
{"data":{"name":"LC2"},"mark":{"type":"rule","color":"#a3a3a3","strokeWidth":1},"encoding":{"x":{"field":"k","type":"ordinal","scale":{"type":"band","domain":[1,2,3,4,5,6],"paddingInner":0,"paddingOuter":0.4037,"align":0.5314},"axis":null},"y":{"field":"lo","type":"quantitative"},"y2":{"field":"hi"}}},
{"data":{"name":"vC2"},"transform":[{"lookup":"k","from":{"data":{"name":"LC2"},"key":"k","fields":["t"]}},{"window":[{"op":"row_number","as":"o"}]},{"fold":["r","l"],"as":["side","w"]}],"mark":{"type":"line","filled":true,"interpolate":"catmull-rom","strokeWidth":0},"encoding":{"x":{"field":"k","type":"ordinal","scale":{"type":"band","domain":[1,2,3,4,5,6],"paddingInner":0,"paddingOuter":0.4037,"align":0.5314},"axis":null},"xOffset":{"field":"w","type":"quantitative","scale":{"domain":[-0.9867,0.9867]}},"y":{"field":"y","type":"quantitative"},"color":{"field":"t","type":"nominal","scale":{"domain":["S","D"],"range":["#1b9580","#ad6f31"]},"legend":null},"detail":[{"field":"k"},{"field":"side"}],"order":{"field":"o"}}},
{"data":{"name":"LC2"},"mark":{"type":"point","shape":"M-1,-1L1,1M-1,1L1,-1","filled":false,"size":30,"color":"#777","strokeWidth":0.8,"opacity":0.6},"encoding":{"x":{"field":"k","type":"ordinal","scale":{"type":"band","domain":[1,2,3,4,5,6],"paddingInner":0,"paddingOuter":0.4037,"align":0.5314},"axis":null},"y":{"field":"m","type":"quantitative"}}},
{"data":{"name":"LC2"},"mark":{"type":"text","fontSize":9,"color":"#333"},"encoding":{"x":{"field":"k","type":"ordinal","scale":{"type":"band","domain":[1,2,3,4,5,6],"paddingInner":0,"paddingOuter":0.4037,"align":0.5314},"axis":null},"y":{"datum":1.0374},"text":{"field":"let"}}},
{"data":{"name":"LC2"},"mark":{"type":"text","fontSize":18,"color":"#555"},"encoding":{"x":{"field":"k","type":"ordinal","scale":{"type":"band","domain":[1,2,3,4,5,6],"paddingInner":0,"paddingOuter":0.4037,"align":0.5314},"axis":null},"y":{"datum":0.2311},"text":{"field":"t"}}},
{"data":{"name":"BC2"},"mark":{"type":"rect","stroke":"black","strokeWidth":2},"encoding":{"x":{"field":"x0","type":"quantitative","scale":{"domain":[0.071,6.878]},"axis":null},"x2":{"field":"x1"},"y":{"datum":0.2077},"y2":{"datum":0.1489},"fill":{"field":"g","type":"nominal","scale":{"domain":["FV","U1","U2"],"range":["#1a8a1a","#fbab17","#fb1a1a"]},"legend":null}}},
{"data":{"name":"BC2"},"mark":{"type":"text","fontSize":15,"color":"white"},"encoding":{"x":{"field":"xc","type":"quantitative","scale":{"domain":[0.071,6.878]},"axis":null},"y":{"datum":0.1783},"text":{"field":"g"}}}
]},
{"width":391,"height":595,"resolve":{"scale":{"x":"independent"}},"layer":[
{"data":{"values":[{}]},"mark":{"type":"rect","filled":false,"color":"#dcdcdc","strokeWidth":1},"encoding":{"x":{"datum":0.4,"type":"quantitative","scale":{"domain":[-0.403,5.903]},"axis":null},"x2":{"datum":5.6},"y":{"datum":1.0894,"type":"quantitative","scale":{"domain":[-0.006,1.1043],"nice":false,"zero":false},"axis":{"values":[0.4,0.6,0.8,1.0],"format":".1f","offset":-50,"title":null}},"y2":{"datum":0.2532}}},
{"data":{"name":"LD2"},"mark":{"type":"rule","color":"#a3a3a3","strokeWidth":1},"encoding":{"x":{"field":"k","type":"ordinal","scale":{"type":"band","domain":[1,2,3,4,5],"paddingInner":0,"paddingOuter":0.6532,"align":0.6914},"axis":null},"y":{"field":"lo","type":"quantitative"},"y2":{"field":"hi"}}},
{"data":{"name":"vD2"},"transform":[{"lookup":"k","from":{"data":{"name":"LD2"},"key":"k","fields":["t"]}},{"window":[{"op":"row_number","as":"o"}]},{"fold":["r","l"],"as":["side","w"]}],"mark":{"type":"line","filled":true,"interpolate":"catmull-rom","strokeWidth":0},"encoding":{"x":{"field":"k","type":"ordinal","scale":{"type":"band","domain":[1,2,3,4,5],"paddingInner":0,"paddingOuter":0.6532,"align":0.6914},"axis":null},"xOffset":{"field":"w","type":"quantitative","scale":{"domain":[-1.0333,1.0333]}},"y":{"field":"y","type":"quantitative"},"color":{"field":"t","type":"nominal","scale":{"domain":["S","D"],"range":["#1b9580","#ad6f31"]},"legend":null},"detail":[{"field":"k"},{"field":"side"}],"order":{"field":"o"}}},
{"data":{"name":"LD2"},"mark":{"type":"text","fontSize":9,"color":"#333"},"encoding":{"x":{"field":"k","type":"ordinal","scale":{"type":"band","domain":[1,2,3,4,5],"paddingInner":0,"paddingOuter":0.6532,"align":0.6914},"axis":null},"y":{"datum":1.0372},"text":{"field":"let"}}},
{"data":{"name":"LD2"},"mark":{"type":"text","fontSize":18,"color":"#555"},"encoding":{"x":{"field":"k","type":"ordinal","scale":{"type":"band","domain":[1,2,3,4,5],"paddingInner":0,"paddingOuter":0.6532,"align":0.6914},"axis":null},"y":{"datum":0.2304},"text":{"field":"t"}}},
{"data":{"name":"BD2"},"mark":{"type":"rect","stroke":"black","strokeWidth":2},"encoding":{"x":{"field":"x0","type":"quantitative","scale":{"domain":[-0.403,5.903]},"axis":null},"x2":{"field":"x1"},"y":{"datum":0.2091},"y2":{"datum":0.1496},"fill":{"field":"g","type":"nominal","scale":{"domain":["FV","U1","U2"],"range":["#1a8a1a","#fbab17","#fb1a1a"]},"legend":null}}},
{"data":{"name":"BD2"},"mark":{"type":"text","fontSize":15,"color":"white"},"encoding":{"x":{"field":"xc","type":"quantitative","scale":{"domain":[-0.403,5.903]},"axis":null},"y":{"datum":0.1794},"text":{"field":"g"}}}
]}
]
}
